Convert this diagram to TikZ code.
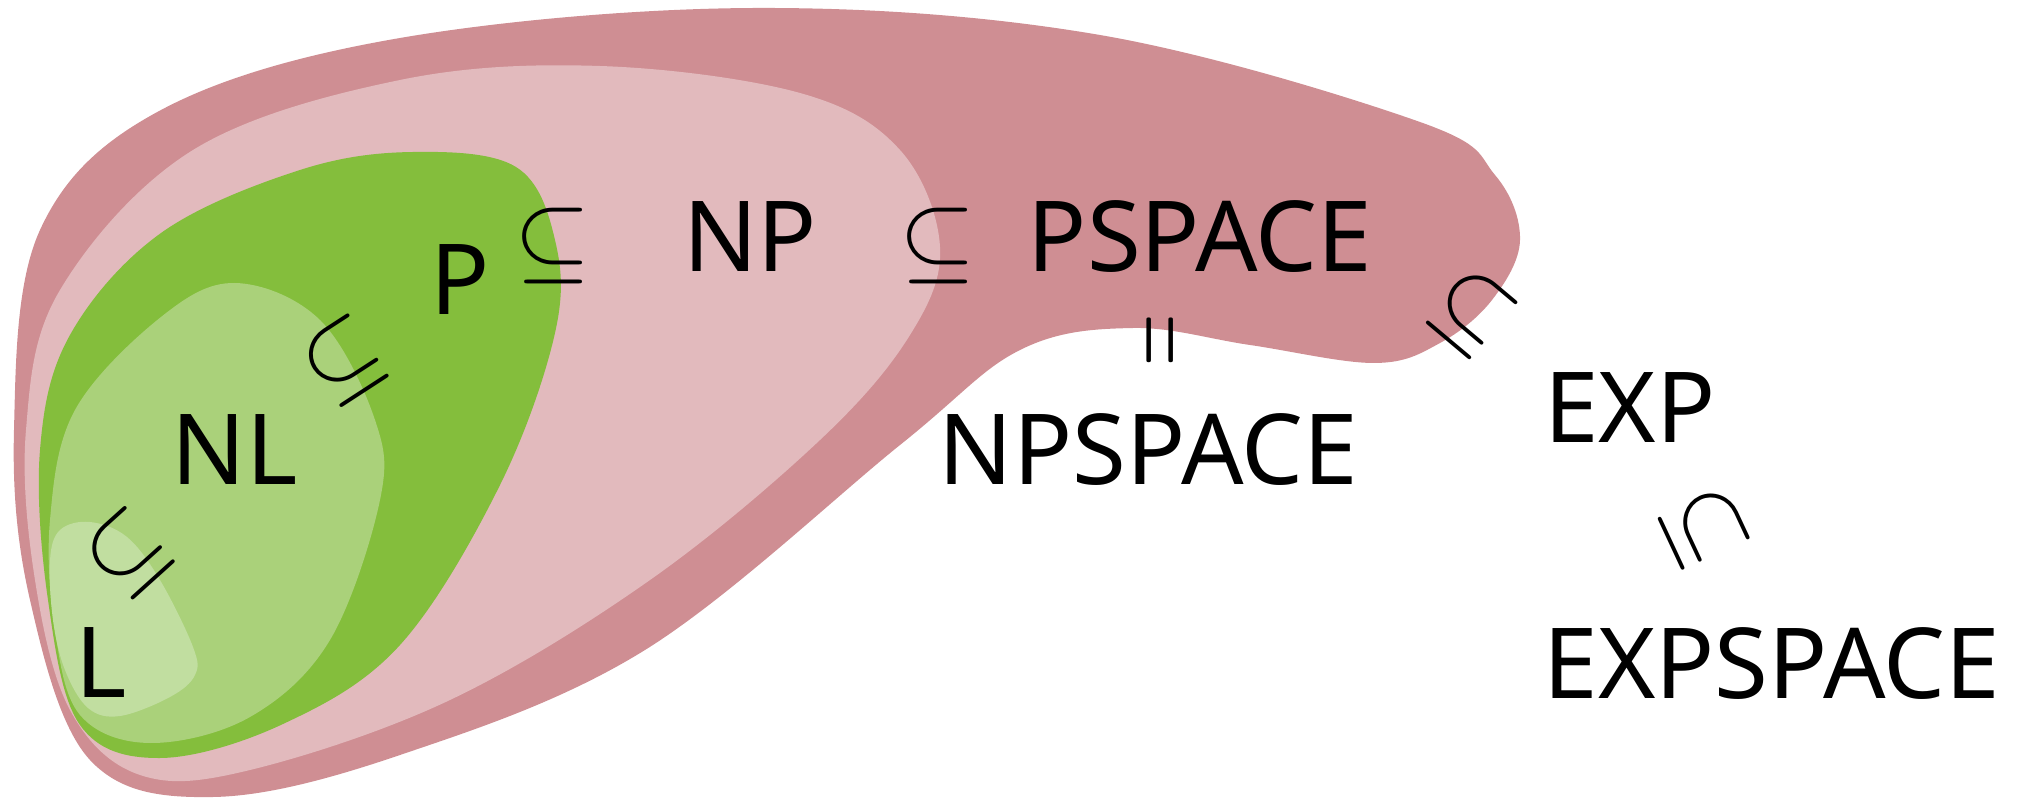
\documentclass[tikz,border=0pt]{standalone}
\usepackage{fontspec}
\setmainfont{Noto Sans}
\usepackage{graphicx}
\definecolor{pspacecol}{RGB}{207,142,147}
\definecolor{npcol}{RGB}{226,186,189}
\definecolor{pcol}{RGB}{132,190,60}
\definecolor{nlcol}{RGB}{170,209,122}
\definecolor{lcol}{RGB}{193,222,160}
\newcommand{\subsym}{\scalebox{4.9}{$\subseteq$}}
\begin{document}
\begin{tikzpicture}[x=0.5pt,y=-0.5pt,
  cls/.style={font=\fontsize{49}{49}\selectfont, inner sep=0pt, anchor=base},
  rel/.style={inner sep=0pt},
  blob/.style={smooth cycle, tension=0.6}]
\useasboundingbox (0,0) rectangle (2022,801);
% PSPACE region
\fill[pspacecol] plot[blob] coordinates {(14,430) (40,230) (161,110) (400,38) (754,8) (1100,35) (1420,122) (1495,175) (1520,240) (1492,300) (1440,343) (1375,363) (1250,345) (1133,328) (1020,350) (900,445) (645,650) (400,755) (213,797) (90,760) (30,600)};
% NP region
\fill[npcol] plot[blob] coordinates {(26,430) (60,290) (193,150) (400,80) (600,66) (800,93) (900,150) (940,247) (910,335) (820,440) (650,580) (450,700) (250,770) (140,775) (70,710) (35,580)};
% P region
\fill[pcol] plot[blob] coordinates {(40,450) (70,335) (161,233) (300,170) (413,152) (516,167) (555,240) (555,333) (500,485) (400,645) (283,724) (160,758) (80,725) (48,600)};
% NL region
\fill[nlcol] plot[blob] coordinates {(50,520) (75,410) (161,317) (235,283) (320,320) (375,420) (380,500) (330,640) (250,717) (150,743) (80,715) (55,630)};
% L region
\fill[lcol] plot[blob] coordinates {(50,560) (60,530) (90,522) (127,537) (160,580) (193,647) (195,675) (170,697) (120,716) (88,708) (65,670) (53,620)};
% labels
\node[cls] (P) at (460.5,315) {P};
\node[cls] (NP) at (750,272) {NP};
\node[cls] (PSPACE) at (1200,272) {PSPACE};
\node[cls] (NPSPACE) at (1148.5,485) {NPSPACE};
\node[cls] (EXP) at (1630,443) {EXP};
\node[cls] (EXPSPACE) at (1772,698) {EXPSPACE};
\node[cls] (NL) at (234.5,485) {NL};
\node[cls] (L) at (101.5,697) {L};
% relations
\node[rel] (s1) at (553,246) {\subsym};
\node[rel] (s2) at (938,246) {\subsym};
\node[rel, rotate=33] (s3) at (344,361) {\subsym};
\node[rel, rotate=42] (s4) at (128,554) {\subsym};
\node[rel, rotate=90] (s5) at (1168,340.5) {\scalebox{3.37}[5.67]{$=$}};
\node[rel, rotate=-40] (s6) at (1471.5,312.7) {\subsym};
\node[rel, rotate=-65] (s7) at (1704,528) {\subsym};
\end{tikzpicture}
\end{document}
